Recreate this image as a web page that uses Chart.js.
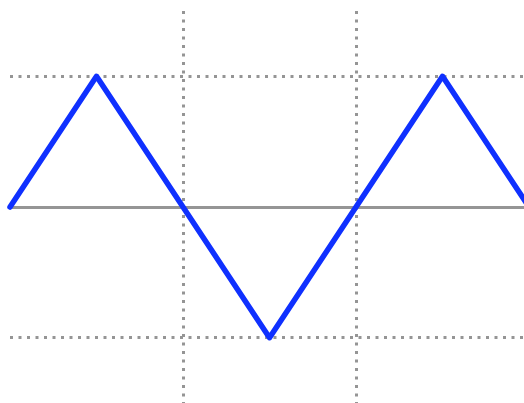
<!DOCTYPE html>
<html>
<head>
<meta charset="utf-8">
<script src="https://cdn.jsdelivr.net/npm/chart.js@4/dist/chart.umd.min.js"></script>
<style>
  html, body { margin: 0; padding: 0; overflow: hidden; background: #fff; }
  #wrap { width: 530px; height: 403px; }
</style>
</head>
<body>
<div id="wrap"><canvas id="grafico"></canvas></div>
<script>
const xValores = [0, 1, 2, 3, 4, 5, 6];
const yValores = [0, 1, 0, -1, 0, 1, 0];
const xTicks = [2, 4];
const yTicks = [-1, 0, 1];

const cinza = '#959595';
const azul = '#0f30ff';

const pontos = xValores.map((x, i) => ({ x: x, y: yValores[i] }));

new Chart(document.getElementById('grafico'), {
  type: 'line',
  data: {
    datasets: [{
      data: pontos,
      borderColor: azul,
      borderWidth: 5.5,
      borderCapStyle: 'round',
      borderJoinStyle: 'round',
      pointRadius: 0,
      tension: 0,
      fill: false,
      clip: false
    }]
  },
  options: {
    responsive: true,
    maintainAspectRatio: false,
    animation: false,
    layout: { padding: { left: 10, right: 1, top: 11, bottom: 0 } },
    plugins: { legend: { display: false }, tooltip: { enabled: false } },
    scales: {
      x: {
        type: 'linear',
        min: 0,
        max: 6,
        afterBuildTicks: (scale) => { scale.ticks = xTicks.map(v => ({ value: v })); },
        ticks: { display: false },
        grid: { color: cinza, lineWidth: 3, drawTicks: false },
        border: { display: false, dash: [3, 5.5] }
      },
      y: {
        min: -1.5,
        max: 1.5,
        afterBuildTicks: (scale) => { scale.ticks = yTicks.map(v => ({ value: v })); },
        ticks: { display: false },
        grid: { color: cinza, lineWidth: 3, drawTicks: false },
        border: {
          display: false,
          dash: (ctx) => (ctx.tick && ctx.tick.value === 0) ? [] : [3, 5.5]
        }
      }
    }
  }
});
</script>
</body>
</html>
